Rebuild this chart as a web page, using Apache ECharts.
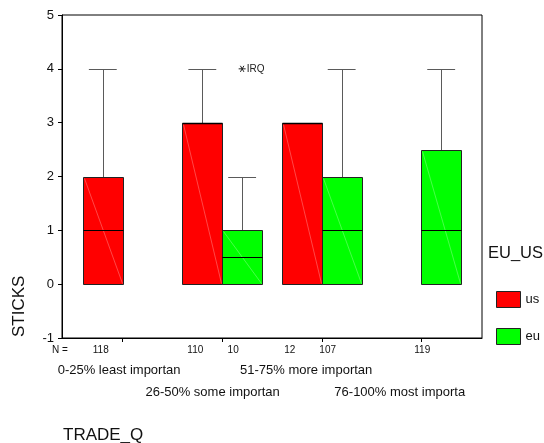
<!DOCTYPE html>
<html>
<head>
<meta charset="utf-8">
<title>STICKS by TRADE_Q</title>
<script src="https://cdn.jsdelivr.net/npm/echarts@6/dist/echarts.min.js"></script>
<style>
  html, body { margin: 0; padding: 0; background: #fff; }
  #chart { width: 544px; height: 443px; }
</style>
</head>
<body>
<div id="chart"></div>
<script>
// Trade-importance groups on the x axis
const categories = ['0-25% least importan', '26-50% some importan', '51-75% more importan', '76-100% most importa'];
const groups = ['us', 'eu'];

// Five-number summaries per group: [min, q1, median, q3, max]; null = no cases
const usStats = [[0, 0, 1, 2, 4], [0, 0, 3, 3, 4], [0, 0, 3, 3, 3], null];
const euStats = [null, [0, 0, 0.5, 1, 2], [0, 0, 1, 2, 4], [0, 0, 1, 2.5, 4]];

// Case counts shown under each box
const usN = [118, 110, 12, null];
const euN = [null, 10, 107, 119];

// Extreme values
const outlierCategory = [1];
const outlierGroup = ['eu'];
const outlierValue = [4];
const outlierLabel = ['IRQ'];

const FONT = 'Liberation Sans, Arial, sans-serif';
const RED = '#ff0000';
const GREEN = '#00ff00';
const X_MIN = 0.39, X_MAX = 4.61;
const BOX_W = 0.4;   // box width in category units
const CAP_HALF = 0.14;

const groupSide = { us: -1, eu: 1 };
const boxCenter = (ci, g) => ci + 1 + groupSide[g] * BOX_W / 2;

function boxData(stats) {
  const out = [];
  stats.forEach((s, i) => { if (s) out.push([i + 1].concat(s)); });
  return out;
}

const px = v => Math.round(v) + 0.5;

function makeRenderBox(side, color) {
  return function (params, api) {
    const c = api.value(0);
    const vmin = api.value(1), q1 = api.value(2), med = api.value(3), q3 = api.value(4), vmax = api.value(5);
    const x0 = c + (side < 0 ? -BOX_W : 0);
    const x1 = c + (side < 0 ? 0 : BOX_W);
    const xm = (x0 + x1) / 2;
    const xl = px(api.coord([x0, 0])[0]);
    const xr = px(api.coord([x1, 0])[0]);
    const xc = px(api.coord([xm, 0])[0]);
    const capL = api.coord([xm - CAP_HALF, 0])[0];
    const capR = api.coord([xm + CAP_HALF, 0])[0];
    const y = v => px(api.coord([c, v])[1]);
    const children = [];
    const whisker = { stroke: '#5a5a5a', lineWidth: 1 };
    if (vmax > q3) {
      children.push({ type: 'line', shape: { x1: xc, y1: y(q3), x2: xc, y2: y(vmax) }, style: whisker });
      children.push({ type: 'line', shape: { x1: capL, y1: y(vmax), x2: capR, y2: y(vmax) }, style: whisker });
    }
    if (vmin < q1) {
      children.push({ type: 'line', shape: { x1: xc, y1: y(q1), x2: xc, y2: y(vmin) }, style: whisker });
      children.push({ type: 'line', shape: { x1: capL, y1: y(vmin), x2: capR, y2: y(vmin) }, style: whisker });
    }
    children.push({
      type: 'rect',
      shape: { x: xl, y: y(q3), width: xr - xl, height: y(q1) - y(q3) },
      style: { fill: color, stroke: '#222', lineWidth: 1 }
    });
    // faint hatch stroke across the fill
    children.push({
      type: 'line',
      shape: { x1: xl + 1, y1: y(q3) + 1, x2: xr - 1, y2: y(q1) - 1 },
      style: { stroke: 'rgba(255,255,255,0.28)', lineWidth: 1 }
    });
    children.push({
      type: 'line',
      shape: { x1: xl, y1: y(med), x2: xr, y2: y(med) },
      style: { stroke: '#000', lineWidth: med === q3 || med === q1 ? 1.6 : 1 }
    });
    return { type: 'group', children };
  };
}

// Outlier points drawn as asterisks with case labels
const outlierData = outlierCategory.map((ci, i) => [boxCenter(ci, outlierGroup[i]), outlierValue[i], outlierLabel[i]]);

function renderOutlier(params, api) {
  const p = api.coord([api.value(0), api.value(1)]);
  const r = 3.5;
  const s = { stroke: '#222', lineWidth: 1 };
  const a = Math.PI / 3;
  return {
    type: 'group',
    children: [
      { type: 'line', shape: { x1: p[0] - r, y1: p[1], x2: p[0] + r, y2: p[1] }, style: s },
      { type: 'line', shape: { x1: p[0] - r * Math.cos(a), y1: p[1] - r * Math.sin(a), x2: p[0] + r * Math.cos(a), y2: p[1] + r * Math.sin(a) }, style: s },
      { type: 'line', shape: { x1: p[0] + r * Math.cos(a), y1: p[1] - r * Math.sin(a), x2: p[0] - r * Math.cos(a), y2: p[1] + r * Math.sin(a) }, style: s },
      { type: 'text', x: p[0] + r + 1, y: p[1], style: { text: api.value(2), fontSize: 10, fontFamily: FONT, fill: '#222', verticalAlign: 'middle', align: 'left' } }
    ]
  };
}

// Count labels are laid out on a slightly compressed scale from the left edge
const shrink = (v, k) => X_MIN + (v - X_MIN) * k;
const nPositions = [];
const nText = {};
categories.forEach((_, ci) => {
  [['us', usN[ci]], ['eu', euN[ci]]].forEach(([g, n]) => {
    if (n != null) {
      const v = +shrink(boxCenter(ci, g), 0.95).toFixed(4);
      nPositions.push(v);
      nText[v.toFixed(4)] = String(n);
    }
  });
});
const catText = {};
const catPos = categories.map((name, ci) => {
  const v = +shrink(ci + 1, 0.94).toFixed(4);
  catText[v.toFixed(4)] = name;
  return v;
});

const labelAxis = (values, map, fontSize, margin) => ({
  type: 'value', position: 'bottom', gridIndex: 0, min: X_MIN, max: X_MAX,
  axisLine: { show: false, onZero: false }, axisTick: { show: false }, splitLine: { show: false },
  axisLabel: {
    customValues: values, margin: margin, fontSize: fontSize, fontFamily: FONT, color: '#111',
    formatter: v => map[(+v).toFixed(4)] || ''
  }
});

const chart = echarts.init(document.getElementById('chart'), null, { renderer: 'canvas' });

chart.setOption({
  animation: false,
  backgroundColor: '#fff',
  grid: { left: 62, top: 15, width: 420, height: 323, show: true, borderColor: '#000', borderWidth: 1, containLabel: false },
  xAxis: [
    {
      type: 'value', position: 'bottom', min: X_MIN, max: X_MAX,
      axisLine: { show: true, onZero: false, lineStyle: { color: '#000', width: 1 } },
      axisTick: { show: true, customValues: [1, 2, 3, 4], length: 4, inside: false, lineStyle: { color: '#000' } },
      axisLabel: { show: false },
      splitLine: { show: false }
    },
    labelAxis(nPositions, nText, 10, 7),
    labelAxis([catPos[0], catPos[2]], catText, 13, 26),
    labelAxis([catPos[1], catPos[3]], catText, 13, 48)
  ],
  yAxis: {
    type: 'value', min: -1, max: 5, interval: 1,
    axisLine: { show: true, onZero: false, lineStyle: { color: '#000', width: 1 } },
    axisTick: { show: true, length: 4, inside: false, lineStyle: { color: '#000' } },
    axisLabel: { margin: 8, fontSize: 13, fontFamily: FONT, color: '#111' },
    splitLine: { show: false }
  },
  legend: {
    orient: 'vertical', left: 491, top: 286,
    itemWidth: 24, itemHeight: 16, itemGap: 20,
    textStyle: { fontSize: 13, fontFamily: FONT, color: '#111' },
    data: groups.map(g => ({ name: g, icon: 'rect', itemStyle: { borderColor: '#222', borderWidth: 1 } })),
    selectedMode: false
  },
  graphic: [
    { type: 'text', left: 488, top: 245, style: { text: 'EU_US', fontSize: 16.5, fontFamily: FONT, fill: '#111' } },
    { type: 'text', x: 52, y: 350, style: { text: 'N =', fontSize: 10, fontFamily: FONT, fill: '#111', verticalAlign: 'middle' } },
    { type: 'text', x: 63, y: 435, style: { text: 'TRADE_Q', fontSize: 17, fontFamily: FONT, fill: '#111', verticalAlign: 'middle' } },
    { type: 'text', x: 19, y: 337, rotation: Math.PI / 2, style: { text: 'STICKS', fontSize: 17, fontFamily: FONT, fill: '#111', align: 'left', verticalAlign: 'middle' } }
  ],
  series: [
    {
      name: 'us', type: 'custom', xAxisIndex: 0, yAxisIndex: 0,
      itemStyle: { color: RED },
      renderItem: makeRenderBox(-1, RED),
      encode: { x: 0, y: [1, 2, 3, 4, 5] },
      data: boxData(usStats)
    },
    {
      name: 'eu', type: 'custom', xAxisIndex: 0, yAxisIndex: 0,
      itemStyle: { color: GREEN },
      renderItem: makeRenderBox(1, GREEN),
      encode: { x: 0, y: [1, 2, 3, 4, 5] },
      data: boxData(euStats)
    },
    {
      name: 'outliers', type: 'custom', xAxisIndex: 0, yAxisIndex: 0,
      renderItem: renderOutlier,
      encode: { x: 0, y: 1 },
      data: outlierData
    }
  ]
});
</script>
</body>
</html>
